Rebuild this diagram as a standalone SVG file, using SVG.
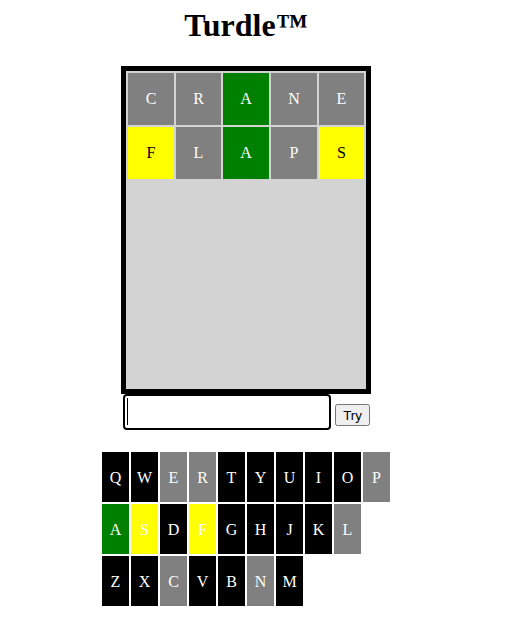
<svg xmlns="http://www.w3.org/2000/svg" width="519" height="643" viewBox="0 0 519 643">
<style>
.t{font-family:"Liberation Serif","Times New Roman",serif;font-size:16px;text-anchor:middle}
.w{fill:#fff}
.b{fill:#000}
.g{fill:#808080}
.gr{fill:#008000}
.y{fill:#ffff00}
.k{fill:#000}
</style>
<rect width="519" height="643" fill="#fff"/>
<text x="246" y="36" font-family="Liberation Serif,serif" font-size="32" font-weight="bold" text-anchor="middle">Turdle™</text>
<g id="board">
<rect x="121" y="66" width="250" height="328" fill="#000"/>
<rect x="126" y="71" width="240" height="318" fill="#d3d3d3"/>
</g>
<g id="row1">
<rect class="g" x="128" y="73" width="46" height="52"/><text class="t w" x="151" y="104">C</text>
<rect class="g" x="176" y="73" width="45" height="52"/><text class="t w" x="198.5" y="104">R</text>
<rect class="gr" x="223" y="73" width="46" height="52"/><text class="t w" x="246" y="104">A</text>
<rect class="g" x="271" y="73" width="46" height="52"/><text class="t w" x="294" y="104">N</text>
<rect class="g" x="319" y="73" width="45" height="52"/><text class="t w" x="341.5" y="104">E</text>
</g>
<g id="row2">
<rect class="y" x="128" y="127" width="46" height="52"/><text class="t b" x="151" y="158">F</text>
<rect class="g" x="176" y="127" width="45" height="52"/><text class="t w" x="198.5" y="158">L</text>
<rect class="gr" x="223" y="127" width="46" height="52"/><text class="t w" x="246" y="158">A</text>
<rect class="g" x="271" y="127" width="46" height="52"/><text class="t w" x="294" y="158">P</text>
<rect class="y" x="319" y="127" width="45" height="52"/><text class="t b" x="341.5" y="158">S</text>
</g>
<g id="input">
<rect x="124" y="395" width="206" height="34" rx="3" fill="#fff" stroke="#000" stroke-width="2"/>
<line x1="127.5" y1="398" x2="127.5" y2="425" stroke="#000" stroke-width="1"/>
</g>
<g id="try">
<rect x="335.5" y="404.5" width="34" height="21" rx="2" fill="#efefef" stroke="#767676"/>
<text x="352.5" y="420" font-family="Liberation Sans,Arial,sans-serif" font-size="13.3" text-anchor="middle">Try</text>
</g>
<g id="keyboard">
<rect class="k" x="102" y="452" width="27" height="50"/><text class="t w" x="115.5" y="483">Q</text>
<rect class="k" x="131" y="452" width="27" height="50"/><text class="t w" x="144.5" y="483">W</text>
<rect class="g" x="160" y="452" width="27" height="50"/><text class="t w" x="173.5" y="483">E</text>
<rect class="g" x="189" y="452" width="27" height="50"/><text class="t w" x="202.5" y="483">R</text>
<rect class="k" x="218" y="452" width="27" height="50"/><text class="t w" x="231.5" y="483">T</text>
<rect class="k" x="247" y="452" width="27" height="50"/><text class="t w" x="260.5" y="483">Y</text>
<rect class="k" x="276" y="452" width="27" height="50"/><text class="t w" x="289.5" y="483">U</text>
<rect class="k" x="305" y="452" width="27" height="50"/><text class="t w" x="318.5" y="483">I</text>
<rect class="k" x="334" y="452" width="27" height="50"/><text class="t w" x="347.5" y="483">O</text>
<rect class="g" x="363" y="452" width="27" height="50"/><text class="t w" x="376.5" y="483">P</text>
<rect class="gr" x="102" y="504" width="27" height="50"/><text class="t w" x="115.5" y="535">A</text>
<rect class="y" x="131" y="504" width="27" height="50"/><text class="t w" x="144.5" y="535">S</text>
<rect class="k" x="160" y="504" width="27" height="50"/><text class="t w" x="173.5" y="535">D</text>
<rect class="y" x="189" y="504" width="27" height="50"/><text class="t w" x="202.5" y="535">F</text>
<rect class="k" x="218" y="504" width="27" height="50"/><text class="t w" x="231.5" y="535">G</text>
<rect class="k" x="247" y="504" width="27" height="50"/><text class="t w" x="260.5" y="535">H</text>
<rect class="k" x="276" y="504" width="27" height="50"/><text class="t w" x="289.5" y="535">J</text>
<rect class="k" x="305" y="504" width="27" height="50"/><text class="t w" x="318.5" y="535">K</text>
<rect class="g" x="334" y="504" width="27" height="50"/><text class="t w" x="347.5" y="535">L</text>
<rect class="k" x="102" y="556" width="27" height="50"/><text class="t w" x="115.5" y="587">Z</text>
<rect class="k" x="131" y="556" width="27" height="50"/><text class="t w" x="144.5" y="587">X</text>
<rect class="g" x="160" y="556" width="27" height="50"/><text class="t w" x="173.5" y="587">C</text>
<rect class="k" x="189" y="556" width="27" height="50"/><text class="t w" x="202.5" y="587">V</text>
<rect class="k" x="218" y="556" width="27" height="50"/><text class="t w" x="231.5" y="587">B</text>
<rect class="g" x="247" y="556" width="27" height="50"/><text class="t w" x="260.5" y="587">N</text>
<rect class="k" x="276" y="556" width="27" height="50"/><text class="t w" x="289.5" y="587">M</text>
</g>
<g id="connectors"></g>
</svg>
